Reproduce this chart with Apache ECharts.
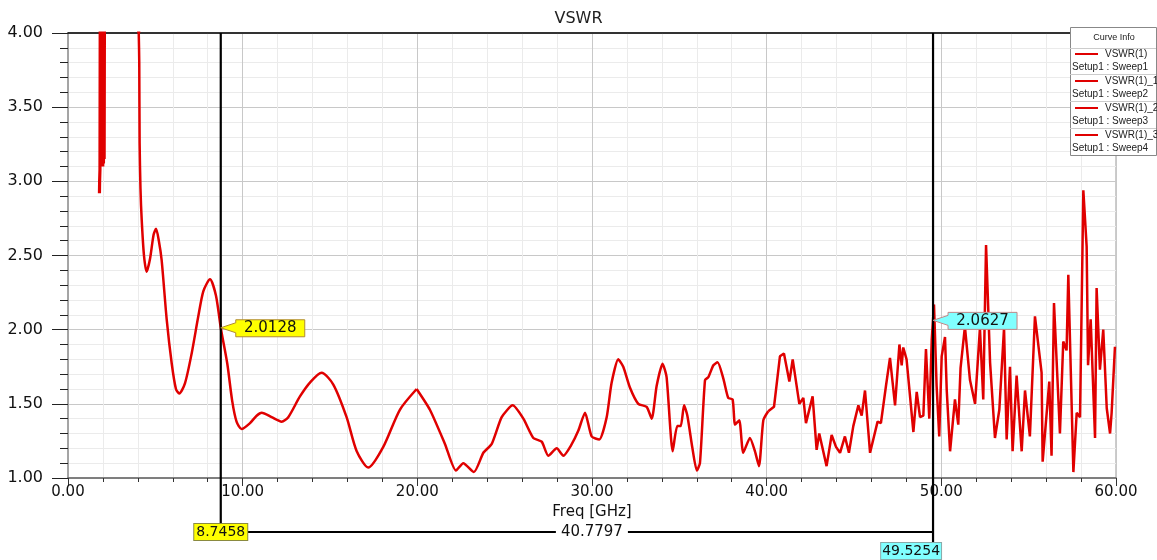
<!DOCTYPE html>
<html><head><meta charset="utf-8">
<script src="https://cdn.jsdelivr.net/npm/echarts@6/dist/echarts.min.js"></script>
<style>html,body{margin:0;padding:0;background:#fff}#c{width:1157px;height:560px}</style>
</head><body><div id="c"></div>
<script>
// ---- data (Freq GHz, VSWR) ----
const sweep1 = [[1.80,2.92],[1.81,3.0],[1.83,3.08],[1.85,4.5],[1.87,3.10],[1.89,4.5],[1.91,3.10],[1.93,4.5],[1.95,3.12],[1.97,4.5],[1.99,3.10],[2.01,4.5],[2.03,3.12],[2.05,4.5],[2.07,3.15],[2.10,5.0],[3.0,8.0],[4.0,4.3],[4.05,4.0]];
const sweep2 = [[4.05,4.0],[4.08,3.80],[4.10,3.26],[4.15,2.95],[4.22,2.74],[4.35,2.50],[4.50,2.39],[4.70,2.48],[4.90,2.64],[5.04,2.68],[5.20,2.60],[5.36,2.47],[5.65,2.07],[5.94,1.77],[6.18,1.60],[6.37,1.57],[6.70,1.64],[7.08,1.84],[7.46,2.09],[7.75,2.26],[8.13,2.34],[8.47,2.23],[8.75,2.01],[9.12,1.77],[9.40,1.52],[9.65,1.38],[9.94,1.33],[10.42,1.37],[10.80,1.42],[11.09,1.44],[11.66,1.41],[12.23,1.38],[12.61,1.41],[13.28,1.55],[13.90,1.65],[14.52,1.71],[15.19,1.63],[15.95,1.41],[16.53,1.18],[17.19,1.07],[18.05,1.21],[19.00,1.46],[19.96,1.60]];
const sweep3 = [[19.96,1.60],[20.72,1.46],[21.58,1.23],[22.21,1.05],[22.63,1.10],[23.24,1.04],[23.78,1.17],[24.26,1.23],[24.83,1.41],[25.46,1.49],[26.07,1.40],[26.64,1.27],[27.12,1.245],[27.50,1.15],[27.98,1.20],[28.36,1.15],[28.80,1.22],[29.22,1.32],[29.60,1.44],[29.98,1.28],[30.42,1.26],[30.84,1.41],[31.12,1.64],[31.50,1.80],[31.79,1.75],[32.17,1.61],[32.65,1.50],[33.13,1.48],[33.42,1.40],[33.70,1.62],[34.04,1.77],[34.27,1.68],[34.62,1.18],[34.88,1.35],[35.08,1.35],[35.27,1.49],[35.46,1.42],[35.75,1.20],[36.00,1.05],[36.18,1.10],[36.47,1.66],[36.66,1.68],[36.95,1.76],[37.19,1.78],[37.52,1.67],[37.80,1.54],[38.05,1.53],[38.19,1.36],[38.43,1.39],[38.66,1.17],[39.04,1.27],[39.33,1.18],[39.56,1.08],[39.81,1.39],[40.09,1.45]];
const sweep4 = [[40.09,1.45],[40.42,1.48],[40.76,1.82],[40.99,1.84],[41.30,1.65],[41.49,1.80],[41.87,1.50],[42.10,1.54],[42.25,1.37],[42.63,1.55],[42.86,1.19],[43.01,1.30],[43.43,1.08],[43.72,1.29],[43.97,1.21],[44.20,1.17],[44.48,1.28],[44.71,1.17],[44.96,1.35],[45.25,1.49],[45.44,1.42],[45.63,1.59],[45.92,1.17],[46.35,1.38],[46.54,1.37],[46.83,1.62],[47.06,1.81],[47.35,1.49],[47.60,1.90],[47.73,1.76],[47.82,1.88],[48.01,1.80],[48.40,1.31],[48.59,1.58],[48.78,1.41],[48.97,1.42],[49.12,1.87],[49.31,1.40],[49.45,1.93],[49.58,2.17],[49.73,1.62],[49.88,1.28],[50.02,1.82],[50.21,1.95],[50.31,1.59],[50.50,1.18],[50.78,1.53],[50.97,1.36],[51.10,1.74],[51.35,2.02],[51.64,1.66],[51.93,1.50],[52.21,2.01],[52.40,1.53],[52.56,2.57],[52.79,1.78],[53.07,1.27],[53.32,1.46],[53.59,2.01],[53.74,1.26],[53.93,1.75],[54.08,1.18],[54.31,1.69],[54.60,1.18],[54.79,1.59],[55.07,1.28],[55.36,2.09],[55.74,1.71],[55.80,1.11],[56.18,1.65],[56.31,1.15],[56.45,2.18],[56.79,1.30],[56.98,1.92],[57.17,1.86],[57.27,2.37],[57.56,1.04],[57.75,1.44],[57.94,1.41],[58.13,2.94],[58.32,2.56],[58.40,1.76],[58.55,2.07],[58.80,1.27],[58.89,2.28],[59.08,1.73],[59.27,2.00],[59.47,1.47],[59.66,1.30],[59.75,1.44],[59.94,1.885]];
const seriesNames = ['VSWR(1)','VSWR(1)_1','VSWR(1)_2','VSWR(1)_3'];
const setupNames = ['Setup1 : Sweep1','Setup1 : Sweep2','Setup1 : Sweep3','Setup1 : Sweep4'];
const markerFreqs = [8.7458, 49.5254];
const markerValues = [2.0128, 2.0627];
const deltaLabel = '40.7797';
const xRange = [0, 60, 10];
const yRange = [1, 4, 0.5];

const FONT = 'DejaVu Sans';
const RED = '#e00000';
const chart = echarts.init(document.getElementById('c'), null, {renderer: 'canvas'});
const sweeps = [sweep1, sweep2, sweep3, sweep4];
const smoothing = [false, 0.25, 0.2, false];
const widths = [3.2, 2.5, 2.5, 2.5];

chart.setOption({
  animation: false,
  backgroundColor: '#fff',
  title: {text: 'VSWR', left: 'center', top: 6, textStyle: {fontFamily: FONT, fontSize: 16, fontWeight: 'normal', color: '#222'}},
  grid: {left: 68, right: 41, top: 33, bottom: 82, show: true, borderColor: '#999', borderWidth: 1},
  xAxis: [{
    type: 'value', min: xRange[0], max: xRange[1], interval: xRange[2],
    name: 'Freq [GHz]', nameLocation: 'middle', nameGap: 25,
    nameTextStyle: {fontFamily: FONT, fontSize: 15, color: '#111'},
    axisLine: {lineStyle: {color: '#666', width: 1.5}},
    axisTick: {length: 8, lineStyle: {color: '#333'}},
    minorTick: {show: true, splitNumber: 5, length: 4, lineStyle: {color: '#333'}},
    axisLabel: {formatter: v => v.toFixed(2), margin: 7, fontFamily: FONT, fontSize: 15, color: '#111'},
    splitLine: {lineStyle: {color: '#c8c8c8'}},
    minorSplitLine: {show: true, lineStyle: {color: '#ebebeb'}}
  }, {
    type: 'value', position: 'top', min: xRange[0], max: xRange[1],
    axisLine: {lineStyle: {color: '#000', width: 1.5}},
    axisTick: {show: false}, axisLabel: {show: false}, splitLine: {show: false}
  }],
  yAxis: {
    type: 'value', min: yRange[0], max: yRange[1], interval: yRange[2],
    axisLine: {show: true, lineStyle: {color: '#999', width: 1.5}},
    axisTick: {show: true, length: 16, lineStyle: {color: '#222'}},
    minorTick: {show: true, splitNumber: 5, length: 8, lineStyle: {color: '#222'}},
    axisLabel: {formatter: v => v.toFixed(2), margin: 25, fontFamily: FONT, fontSize: 16, color: '#111'},
    splitLine: {lineStyle: {color: '#c8c8c8'}},
    minorSplitLine: {show: true, lineStyle: {color: '#ebebeb'}}
  },
  series: sweeps.map((d, i) => ({
    name: seriesNames[i], type: 'line', data: d, showSymbol: false, clip: true,
    smooth: smoothing[i],
    lineStyle: {color: RED, width: widths[i]}, itemStyle: {color: RED}, z: 3
  }))
});

// ---- markers & legend (positions from the chart's scales) ----
const yTop = chart.convertToPixel({yAxisIndex: 0}, yRange[1]);
const mx = markerFreqs.map(f => chart.convertToPixel({xAxisIndex: 0}, f));
const my = markerValues.map(v => chart.convertToPixel({yAxisIndex: 0}, v));
const deltaY = 532;
const g = [];
g.push({type: 'line', shape: {x1: mx[0], y1: yTop, x2: mx[0], y2: deltaY}, style: {stroke: '#000', lineWidth: 2.2}, z: 10});
g.push({type: 'line', shape: {x1: mx[1], y1: yTop, x2: mx[1], y2: 544}, style: {stroke: '#000', lineWidth: 2.2}, z: 10});
g.push({type: 'line', shape: {x1: mx[0], y1: deltaY, x2: mx[1], y2: deltaY}, style: {stroke: '#000', lineWidth: 2.2}, z: 10});
g.push({type: 'text', x: (mx[0] + 30 + mx[1]) / 2, y: deltaY, z: 12,
  style: {text: deltaLabel, fontFamily: FONT, fontSize: 15, fill: '#111', align: 'center', verticalAlign: 'middle', backgroundColor: '#fff', padding: [1, 5]}});
g.push({type: 'text', x: mx[0], y: deltaY, z: 12,
  style: {text: markerFreqs[0].toFixed(4), fontFamily: FONT, fontSize: 14, fill: '#111', align: 'center', verticalAlign: 'middle', backgroundColor: '#ffff00', borderColor: '#8a8a40', borderWidth: 1, padding: [1, 2]}});
g.push({type: 'text', x: mx[1] + 8, y: 551, z: 12,
  style: {text: markerFreqs[1].toFixed(4), fontFamily: FONT, fontSize: 14, fill: '#111', align: 'right', verticalAlign: 'middle', backgroundColor: '#80ffff', borderColor: '#8aa', borderWidth: 1, padding: [1, 1]}});
const callColors = [['#ffff00', '#b08a30'], ['#80ffff', '#c08888']];
for (let i = 0; i < 2; i++) {
  const tx = mx[i], ty = my[i];
  const bx = tx + 15, bw = 69, bh = 17, bt = ty - 8;
  g.push({type: 'polygon', z: 13,
    shape: {points: [[tx, ty], [bx, ty - 5], [bx, bt], [bx + bw, bt], [bx + bw, bt + bh], [bx, bt + bh], [bx, ty + 5]]},
    style: {fill: callColors[i][0], stroke: callColors[i][1], lineWidth: 1}});
  g.push({type: 'text', x: bx + bw / 2, y: ty + 0.5, z: 14,
    style: {text: markerValues[i].toFixed(4), fontFamily: FONT, fontSize: 15, fill: '#111', align: 'center', verticalAlign: 'middle'}});
}
const LX = 1070, LY = 27, LW = 86, LH = 128;
g.push({type: 'rect', z: 20, shape: {x: LX + 0.5, y: LY + 0.5, width: LW, height: LH}, style: {fill: '#fff', stroke: '#888', lineWidth: 1}});
g.push({type: 'text', z: 21, x: LX + LW / 2 + 1, y: 38, style: {text: 'Curve Info', fontFamily: 'Liberation Sans', fontSize: 9, fill: '#222', align: 'center', verticalAlign: 'middle'}});
[48, 74, 101, 128].forEach(y => g.push({type: 'line', z: 21, shape: {x1: LX, y1: y + 0.5, x2: LX + LW, y2: y + 0.5}, style: {stroke: '#ccc', lineWidth: 1}}));
for (let i = 0; i < 4; i++) {
  const ly = 54 + 27 * i;
  g.push({type: 'line', z: 21, shape: {x1: LX + 5, y1: ly, x2: LX + 28, y2: ly}, style: {stroke: RED, lineWidth: 2}});
  g.push({type: 'text', z: 21, x: LX + 35, y: ly, style: {text: seriesNames[i], fontFamily: 'Liberation Sans', fontSize: 10, fill: '#222', align: 'left', verticalAlign: 'middle'}});
  g.push({type: 'text', z: 21, x: LX + 2, y: ly + 13, style: {text: setupNames[i], fontFamily: 'Liberation Sans', fontSize: 10, fill: '#222', align: 'left', verticalAlign: 'middle'}});
}
chart.setOption({graphic: g});
</script></body></html>
